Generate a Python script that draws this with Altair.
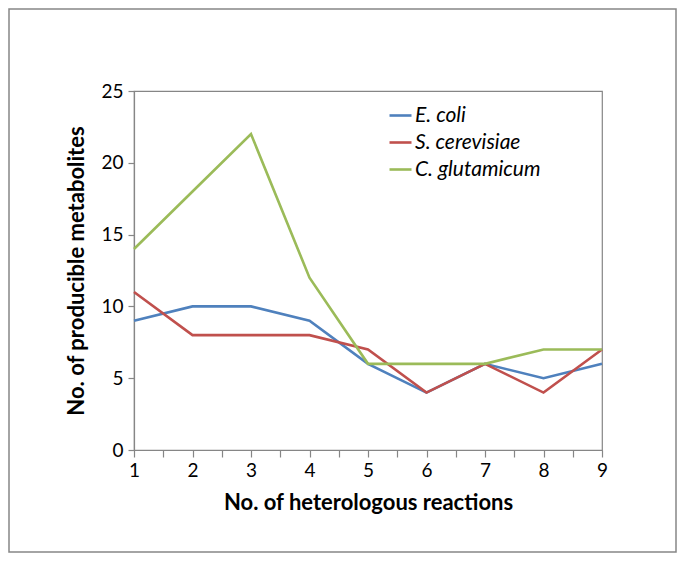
import altair as alt
import pandas as pd

reactions = [1, 2, 3, 4, 5, 6, 7, 8, 9]
series_names = ["E. coli", "S. cerevisiae", "C. glutamicum"]
e_coli = [9, 10, 10, 9, 6, 4, 6, 5, 6]
s_cerevisiae = [11, 8, 8, 8, 7, 4, 6, 4, 7]
c_glutamicum = [14, 18, 22, 12, 6, 6, 6, 7, 7]
colors = ["#4F81BD", "#C0504D", "#9BBB59"]
x_ticks = [1, 1.5, 2, 2.5, 3, 3.5, 4, 4.5, 5, 5.5, 6, 6.5, 7, 7.5, 8, 8.5, 9]
y_ticks = [0, 5, 10, 15, 20, 25]

rows = []
for name, vals in zip(series_names, [e_coli, s_cerevisiae, c_glutamicum]):
    for r, v in zip(reactions, vals):
        rows.append({"reactions": r, "value": v, "series": name})
df = pd.DataFrame(rows)

FONT = "Lato"
W, H = 468, 359
PAD = {"left": 126, "top": 83, "right": 75, "bottom": 103}

lines = alt.Chart(df).mark_line(strokeWidth=2.6).encode(
    x=alt.X("reactions:Q",
            scale=alt.Scale(domain=[1, 9], nice=False, zero=False),
            axis=alt.Axis(values=x_ticks,
                          labelExpr="datum.value % 1 === 0 ? format(datum.value, 'd') : ''",
                          labelFlush=False, labelOverlap=False,
                          title="No. of heterologous reactions", grid=False,
                          tickSize=7, labelPadding=4, titlePadding=12)),
    y=alt.Y("value:Q",
            scale=alt.Scale(domain=[0, 25], nice=False),
            axis=alt.Axis(values=y_ticks, title="No. of producible metabolites", grid=False,
                          tickSize=6, labelPadding=5, labelFlush=False, titlePadding=12)),
    color=alt.Color("series:N",
                    scale=alt.Scale(domain=series_names, range=colors),
                    sort=series_names,
                    legend=alt.Legend(title=None, orient="none", legendX=254, legendY=12,
                                      symbolType="stroke", symbolSize=484, symbolStrokeWidth=2.6,
                                      labelFontStyle="italic", labelFontSize=21, labelFont=FONT,
                                      rowPadding=4, labelOffset=2)),
)

frame_df = pd.DataFrame({"a": [0]})
frame = alt.Chart(frame_df).mark_rect(fill=None, stroke="#868686", strokeWidth=1.5).encode(
    x=alt.value(-PAD["left"] + 1), x2=alt.value(W + PAD["right"] - 1),
    y=alt.value(-PAD["top"] + 1), y2=alt.value(H + PAD["bottom"] - 1),
)

chart = alt.layer(lines, frame).properties(
    width=W, height=H, padding=PAD, autosize=alt.AutoSizeParams(type="none"),
    background="white",
).configure_view(
    stroke="#868686", strokeWidth=1.2
).configure_axis(
    domainColor="#868686", tickColor="#868686", labelColor="black", titleColor="black",
    labelFont=FONT, titleFont=FONT, labelFontSize=19, titleFontSize=22, titleFontWeight="bold",
    domainWidth=1.2, tickWidth=1.2,
)

chart.save("out.html", embed_options={"renderer": "svg", "actions": False})
